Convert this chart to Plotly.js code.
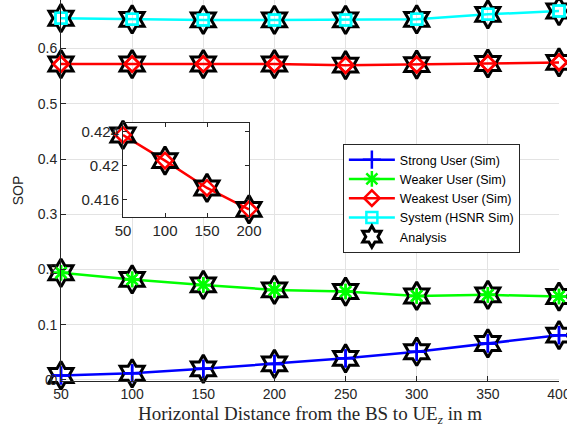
<!DOCTYPE html>
<html><head><meta charset="utf-8">
<script src="https://cdn.plot.ly/plotly-3.0.1.min.js"></script>
<style>html,body{margin:0;padding:0;background:#fff}#chart{width:567px;height:431px}</style>
</head><body><div id="chart"></div>
<script>
const distance=[50,100,150,200,250,300,350,400];
const strongUser=[0.008,0.012,0.020,0.029,0.039,0.051,0.066,0.081];
const weakerUser=[0.194,0.182,0.172,0.163,0.160,0.152,0.154,0.151];
const weakestUser=[0.572,0.572,0.572,0.572,0.570,0.571,0.573,0.575];
const systemHSNR=[0.655,0.653,0.652,0.652,0.652,0.653,0.662,0.668];
const insetDistance=[50,100,150,200];
const insetWeakest=[0.4236,0.4206,0.4174,0.4149];
const xTicks=[50,100,150,200,250,300,350,400];
const yTicks=[0,0.1,0.2,0.3,0.4,0.5,0.6];
const yTickText=['0','0.1','0.2','0.3','0.4','0.5','0.6'];
const insetXTicks=[50,100,150,200];
const insetYTicks=[0.416,0.42,0.424];
const insetYTickText=['0.416','0.42','0.424'];
const seriesNames=['Strong User (Sim)','Weaker User (Sim)','Weakest User (Sim)','System (HSNR Sim)'];
const analysisName='Analysis';

const series=[strongUser,weakerUser,weakestUser,systemHSNR];
const colors=['#0000ff','#00ff00','#ff0000','#00ffff'];
const symbols=['cross-thin-open','asterisk-open','diamond-open','square-open'];
const sizes=[13,13,12,11];
const traces=[];
series.forEach((s,i)=>{
  traces.push({x:distance,y:s,name:seriesNames[i],mode:'lines+markers',
    line:{color:colors[i],width:2.5},
    marker:{symbol:symbols[i],size:sizes[i],color:colors[i],line:{color:colors[i],width:2.5}},
    cliponaxis:false,xaxis:'x',yaxis:'y'});
});
const allX=[].concat(distance,distance,distance,distance);
const allY=[].concat(strongUser,weakerUser,weakestUser,systemHSNR);
traces.push({x:allX,y:allY,name:analysisName,mode:'markers',legendrank:2000,
  marker:{symbol:'hexagram-open',size:21,color:'#000',line:{color:'#000',width:3}},
  cliponaxis:false,xaxis:'x',yaxis:'y'});
series.forEach((s,i)=>{
  traces.push({x:distance,y:s,mode:'markers',showlegend:false,hoverinfo:'skip',
    marker:{symbol:symbols[i],size:sizes[i],color:colors[i],line:{color:colors[i],width:2.5}},
    cliponaxis:false,xaxis:'x',yaxis:'y'});
});
// inset
traces.push({x:insetDistance,y:insetWeakest,mode:'lines',showlegend:false,
  line:{color:'#ff0000',width:2.5},cliponaxis:false,xaxis:'x2',yaxis:'y2'});
traces.push({x:insetDistance,y:insetWeakest,mode:'markers',showlegend:false,
  marker:{symbol:'hexagram-open',size:21,color:'#000',line:{color:'#000',width:3}},
  cliponaxis:false,xaxis:'x2',yaxis:'y2'});
traces.push({x:insetDistance,y:insetWeakest,mode:'markers',showlegend:false,
  marker:{symbol:'diamond-open',size:12,color:'#ff0000',line:{color:'#ff0000',width:2.5}},
  cliponaxis:false,xaxis:'x2',yaxis:'y2'});

const tickFont={family:'Liberation Sans, Arial, sans-serif',size:14,color:'#262626'};
const layout={
  width:567,height:431,
  margin:{l:61,r:8,t:0,b:50},
  paper_bgcolor:'#fff',plot_bgcolor:'#fff',
  showlegend:true,
  legend:{x:0.566,y:0.622,xanchor:'left',yanchor:'top',bgcolor:'#fff',
    bordercolor:'#262626',borderwidth:1,tracegroupgap:0,itemwidth:46,
    font:{family:'Liberation Sans, Arial, sans-serif',size:12.5,color:'#000'}},
  xaxis:{domain:[0,1],range:[50,400],tickvals:xTicks,ticks:'inside',ticklen:5,tickcolor:'#262626',
    showline:true,linecolor:'#262626',linewidth:1,showgrid:true,gridcolor:'#e3e3e3',zeroline:false,
    tickfont:tickFont,ticklabeloverflow:'allow',
    title:{text:'Horizontal Distance from the BS to UE<sub><i>z</i></sub> in m',
      font:{family:'Liberation Serif, Times New Roman, serif',size:19,color:'#262626'},standoff:5}},
  yaxis:{domain:[0,1],range:[-0.002,0.688],tickvals:yTicks,ticktext:yTickText,ticks:'inside',ticklen:5,tickcolor:'#262626',
    showline:true,linecolor:'#262626',linewidth:1,showgrid:true,gridcolor:'#e3e3e3',zeroline:false,
    tickfont:tickFont,ticklabeloverflow:'allow',
    title:{text:'SOP',font:{family:'Liberation Sans, Arial, sans-serif',size:14,color:'#262626'},standoff:10}},
  xaxis2:{domain:[0.1245,0.3775],anchor:'y2',range:[50,200],tickvals:insetXTicks,ticks:'inside',ticklen:4,
    tickcolor:'#262626',showline:true,mirror:'ticks',linecolor:'#262626',linewidth:1,showgrid:false,zeroline:false,
    ticklabeloverflow:'allow',
    tickfont:{family:'Liberation Sans, Arial, sans-serif',size:15,color:'#262626'}},
  yaxis2:{domain:[0.4304,0.6772],anchor:'x2',range:[0.414,0.425],tickvals:insetYTicks,ticktext:insetYTickText,
    ticks:'inside',ticklen:4,tickcolor:'#262626',showline:true,mirror:'ticks',linecolor:'#262626',linewidth:1,
    showgrid:false,zeroline:false,ticklabeloverflow:'allow',
    tickfont:{family:'Liberation Sans, Arial, sans-serif',size:15,color:'#262626'}},
  annotations:[{x:0,xref:'paper',y:yTicks[0],yref:'y',text:yTickText[0],showarrow:false,
    xanchor:'right',yanchor:'middle',xshift:-6,font:tickFont}]
};
Plotly.newPlot('chart',traces,layout,{displayModeBar:false,staticPlot:true});
</script></body></html>
